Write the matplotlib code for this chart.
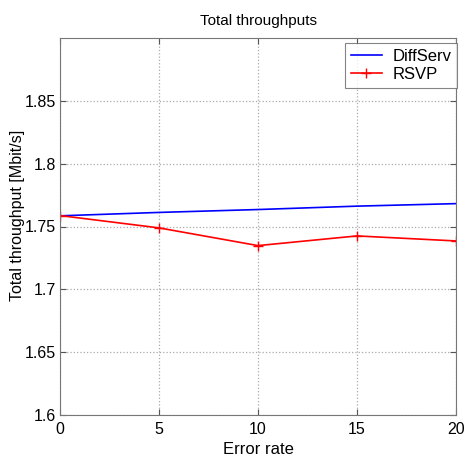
import matplotlib
matplotlib.use("Agg")
import matplotlib.pyplot as plt

plt.rcParams['font.family'] = ['Liberation Sans', 'DejaVu Sans']

error_rate = [0, 5, 10, 15, 20]
diffserv = [1.7585, 1.7612, 1.7635, 1.7662, 1.7682]
rsvp = [1.7587, 1.7489, 1.7348, 1.7425, 1.7385]
xticks = [0, 5, 10, 15, 20]
yticks = [1.6, 1.65, 1.7, 1.75, 1.8, 1.85]
yticklabels = ['1.6', '1.65', '1.7', '1.75', '1.8', '1.85']

fig = plt.figure(figsize=(4.66, 4.57), dpi=100)
ax = fig.add_axes([60/466, 1-415/457, 396/466, 377/457])

ax.plot(error_rate, diffserv, color='#0000ff', lw=1.2, label='DiffServ')
ax.plot(error_rate, rsvp, color='#ff0000', lw=1.2, marker='+', ms=7, mew=1.0, label='RSVP')

ax.set_xlim(0, 20)
ax.set_ylim(1.6, 1.9)
ax.set_xticks(xticks)
ax.set_yticks(yticks)
ax.set_yticklabels(yticklabels)
ax.tick_params(direction='in', top=True, right=True, labelsize=11.5, length=4, color='#555555', pad=5)
ax.tick_params(axis='y', pad=3)
for s in ax.spines.values():
    s.set_color('#777777')
ax.grid(True, linestyle=':', color='#aaaaaa', lw=0.9)

ax.set_title('Total throughputs', fontsize=11, pad=9)
ax.set_xlabel('Error rate', fontsize=12)
ax.set_ylabel('Total throughput [Mbit/s]', fontsize=11.5)
ax.xaxis.set_label_coords(0.5, -(450 - 415) / 377, transform=ax.transAxes)
ax.xaxis.label.set_va('center')
ax.yaxis.set_label_coords(-(60 - 18) / 396, (415 - 215) / 377, transform=ax.transAxes)
ax.yaxis.label.set_va('center')

leg = ax.legend(loc='upper right', fontsize=12, frameon=True, fancybox=False,
                edgecolor='#666666', borderaxespad=0.0, handlelength=1.9,
                borderpad=0.35, labelspacing=0.2, handletextpad=0.6,
                bbox_to_anchor=((457 - 60) / 396, 1 - (43 - 38) / 377))
leg.get_frame().set_linewidth(0.8)

fig.savefig('out.png', dpi=100)
